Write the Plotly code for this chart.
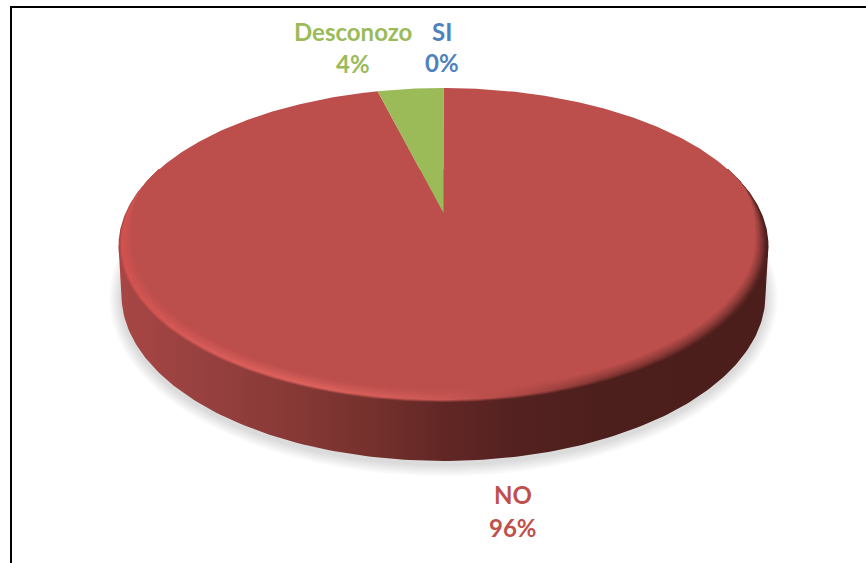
import numpy as np
import plotly.graph_objects as go

# Data
categories = ["SI", "NO", "Desconozo"]
shares = [0, 96, 4]
label_text = ["0%", "96%", "4%"]
text_colors = ["#4F81BD", "#C0504D", "#9BBB59"]
face_colors = ["#4F81BD", "#BC4F4C", "#9BBB59"]

W, H = 866, 563
# Geometry of the perspective disc (pixels)
AX, AY = 443.5, 213
R, K = 318.0, 0.206
TOP_Y, BOT_Y = 88, 403
BASE = dict(cx=443.5, cy=295, rx=322, ry=166)
FONT = "Lato, Carlito, 'Open Sans', sans-serif"
LABEL_POS = {"SI": (442, 31, 62), "NO": (513, 494, 527), "Desconozo": (353, 31, 63)}
LABEL_SIZE = 24
BEVEL_FROM, BEVEL_TO = np.radians(72), np.radians(102)

stop_x = [118, 200, 300, 380, 443, 520, 600, 768]
side_c = ["#A84644", "#974140", "#863835", "#72302C", "#622725", "#532120", "#4D1F1C", "#4B1E1B"]
rim_c = ["#D4524F", "#DC5C59", "#E2645F", "#D95E5A", "#CC5855", "#AD4845", "#7C3330", "#5A2422"]
FLAT = "#BC4F4C"


def rgb(h):
    return np.array([int(h[i:i + 2], 16) for i in (1, 3, 5)], float)


def css(v):
    return "rgb(%d,%d,%d)" % tuple(np.clip(np.round(v), 0, 255))


def mix(a, b, t):
    return a * (1 - t) + b * t


def bevel_weight(theta):
    # no bevel at the back of the disc, full width from the side round to the front
    a = np.abs(((theta + np.pi) % (2 * np.pi)) - np.pi)
    u = np.clip((a - BEVEL_FROM) / (BEVEL_TO - BEVEL_FROM), 0, 1)
    return u * u * (3 - 2 * u)


def rim(theta, b=0.0):
    b = b * bevel_weight(theta)
    s = 1 / (1 + K * np.cos(theta))
    ry = (BOT_Y - TOP_Y - b) / (1 / (1 + K) + 1 / (1 - K))
    return (AX + (R - b) * np.sin(theta) * s,
            TOP_Y + ry / (1 + K) - ry * np.cos(theta) * s)


def ellipse_arc(cx, cy, rx, ry, a0, a1, n=181):
    t = np.linspace(a0, a1, n)
    return cx + rx * np.cos(t), cy + ry * np.sin(t)


def gradient(colors):
    span = stop_x[-1] - stop_x[0]
    scale = [[(x - stop_x[0]) / span, c] for x, c in zip(stop_x, colors)]
    return dict(type="horizontal", colorscale=scale, start=stop_x[0], stop=stop_x[-1])


fig = go.Figure()


def add_poly(x, y, **kw):
    fig.add_trace(go.Scatter(x=x, y=y, mode="lines", fill="toself", line=dict(width=0),
                             hoverinfo="skip", showlegend=False, **kw))


# Soft shadow below the disc
for g in (12, 10, 8, 6, 4, 2):
    x, y = ellipse_arc(BASE["cx"], BASE["cy"] + 3, BASE["rx"] + g, BASE["ry"] + g, 0, 2 * np.pi, 361)
    add_poly(x, y, fillcolor="rgba(0,0,0,0.022)")

# Side wall: lower half of the base ellipse closed across the disc (the face hides the chord)
ext = np.arccos(-K)
lx0, ly0 = rim(np.array([-ext]))
rx0, ry0 = rim(np.array([ext]))
bx, by = ellipse_arc(**BASE, a0=0, a1=np.pi)
add_poly(np.r_[lx0, rx0, bx, lx0], np.r_[ly0, ry0, by, ly0], fillgradient=gradient(side_c))

# Bevel: nested front outlines blending from wall colour through highlight to the flat face
N_BEVEL = 14
t = np.linspace(BEVEL_FROM, 2 * np.pi - BEVEL_FROM, 421)
for b in range(N_BEVEL):
    u = b / (N_BEVEL - 1)
    cols = []
    for sc, rc in zip(side_c, rim_c):
        if u < 0.22:
            c = mix(rgb(sc), rgb(rc), u / 0.22)
        else:
            c = mix(rgb(rc), rgb(FLAT), ((u - 0.22) / 0.78) ** 0.8)
        cols.append(css(c))
    x, y = rim(t, b)
    add_poly(np.r_[x, x[0]], np.r_[y, y[0]], fillgradient=gradient(cols))

# Pie slices, clockwise from the top, drawn from the shares
total = sum(shares)
start = 0.0
for name, val, col in zip(categories, shares, face_colors):
    sweep = 2 * np.pi * val / total
    if val > 0:
        th = np.linspace(start, start + sweep, max(int(val * 6), 8))
        x, y = rim(th, N_BEVEL - 1)
        add_poly(np.r_[AX, x, AX], np.r_[AY, y, AY], fillcolor=col)
    start += sweep

annotations = []
for name, pct, col in zip(categories, label_text, text_colors):
    lx, y1, y2 = LABEL_POS[name]
    for txt, yy in ((name, y1), (pct, y2)):
        annotations.append(dict(x=lx, y=yy, xref="x", yref="y", text=f"<b>{txt}</b>", showarrow=False,
                                font=dict(family=FONT, size=LABEL_SIZE, color=col)))

fig.update_layout(
    width=W, height=H, autosize=False, margin=dict(l=0, r=0, t=0, b=0),
    paper_bgcolor="white", plot_bgcolor="white", showlegend=False,
    xaxis=dict(range=[0, W], visible=False, fixedrange=True),
    yaxis=dict(range=[H, 0], visible=False, fixedrange=True),
    annotations=annotations,
    shapes=[dict(type="rect", xref="x", yref="y", x0=11, y0=7, x1=W + 20, y1=H + 20,
                 line=dict(color="black", width=2), layer="above")],
)
fig.write_html("out.html", config=dict(displayModeBar=False),
               post_script="document.body.style.margin='0';document.body.style.overflow='hidden';")
